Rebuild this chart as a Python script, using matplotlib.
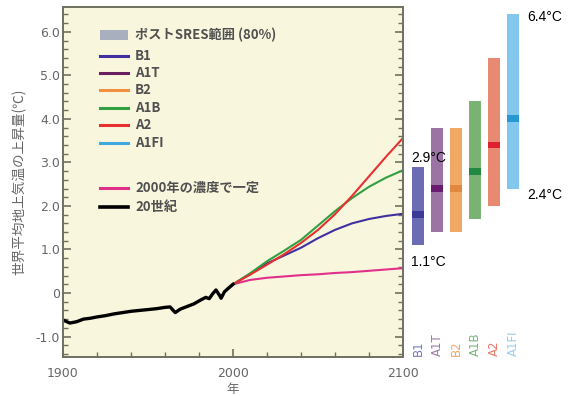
import matplotlib
matplotlib.use("Agg")
import matplotlib.pyplot as plt
from matplotlib.ticker import MultipleLocator

plt.rcParams["font.family"] = ["Noto Sans CJK JP", "DejaVu Sans"]

# -------------------------
# Data
# -------------------------
hist_years = [1900, 1904, 1908, 1912, 1916, 1920, 1925, 1930, 1935, 1940,
              1945, 1950, 1955, 1960, 1963, 1966, 1969, 1973, 1977, 1981,
              1984, 1986, 1988, 1990, 1992, 1993, 1995, 1997, 2000]
hist_temp = [-0.62, -0.69, -0.66, -0.60, -0.58, -0.55, -0.52, -0.48, -0.45, -0.42,
             -0.40, -0.38, -0.36, -0.33, -0.32, -0.45, -0.37, -0.31, -0.25, -0.16,
             -0.10, -0.13, -0.02, 0.07, -0.05, -0.12, 0.03, 0.10, 0.20]

proj_years = [2000, 2010, 2020, 2030, 2040, 2050, 2060, 2070, 2080, 2090, 2100]
proj_a2 = [0.20, 0.42, 0.65, 0.89, 1.15, 1.45, 1.81, 2.23, 2.68, 3.13, 3.56]
proj_a1b = [0.20, 0.45, 0.73, 0.97, 1.22, 1.55, 1.88, 2.18, 2.44, 2.65, 2.82]
proj_b1 = [0.20, 0.44, 0.68, 0.86, 1.04, 1.26, 1.45, 1.60, 1.70, 1.77, 1.82]
proj_const = [0.20, 0.30, 0.35, 0.38, 0.41, 0.43, 0.46, 0.48, 0.51, 0.54, 0.57]

scenarios = ["B1", "A1T", "B2", "A1B", "A2", "A1FI"]
range_low = [1.1, 1.4, 1.4, 1.7, 2.0, 2.4]
range_high = [2.9, 3.8, 3.8, 4.4, 5.4, 6.4]
best_est = [1.8, 2.4, 2.4, 2.8, 3.4, 4.0]

line_colors = ["#4030a0", "#6a2060", "#f09040", "#30a040", "#e83030", "#40a8e0"]
bar_colors = ["#6c6cb4", "#9c74a4", "#f0a862", "#7ab274", "#e88a72", "#82c8ec"]
mark_colors = ["#3c3c98", "#6a1a70", "#e08840", "#208840", "#e02030", "#2898d0"]
label_colors = ["#7878bc", "#9c78a4", "#f0a868", "#78b478", "#f07868", "#98ccee"]

const_color = "#e0308a"

# -------------------------
# Figure
# -------------------------
fig = plt.figure(figsize=(5.7, 3.96), dpi=100)
ax = fig.add_axes([63 / 570, 1 - 357 / 396, 340 / 570, 350 / 396])
ax.set_facecolor("#f9f6de")
ax.set_xlim(1900, 2100)
ax.set_ylim(-1.47, 6.57)

ax.plot(proj_years, proj_const, color=const_color, lw=1.5)
ax.plot(proj_years, proj_b1, color=line_colors[0], lw=1.5)
ax.plot(proj_years, proj_a1b, color=line_colors[3], lw=1.5)
ax.plot(proj_years, proj_a2, color=line_colors[4], lw=1.5)
ax.plot(hist_years, hist_temp, color="black", lw=2.4)

tick_col = "#666666"
ax.set_xticks([1900, 2000, 2100])
ax.xaxis.set_minor_locator(MultipleLocator(20))
ax.set_yticks([-1.0, 0, 1.0, 2.0, 3.0, 4.0, 5.0, 6.0])
ax.set_yticklabels(["-1.0", "0", "1.0", "2.0", "3.0", "4.0", "5.0", "6.0"])
ax.yaxis.set_minor_locator(MultipleLocator(0.2))
ax.tick_params(which="both", direction="in", colors="#707060", labelcolor=tick_col,
               labelsize=9, right=True)
ax.tick_params(which="major", length=6, width=1.2)
ax.tick_params(which="minor", length=3.5, width=1.0)
ax.tick_params(axis="x", pad=7)
ax.tick_params(axis="y", pad=2)
for lab in ax.get_xticklabels() + ax.get_yticklabels():
    lab.set_family("DejaVu Sans")
for sp in ax.spines.values():
    sp.set_color("#707060")
    sp.set_linewidth(1.4)

ax.set_xlabel("年", color=tick_col, fontsize=9, labelpad=2)
ax.set_ylabel("世界平均地上気温の上昇量(℃)", color=tick_col, fontsize=9.8, labelpad=7)

# -------------------------
# Legend (drawn by hand)
# -------------------------
def row_y(py):
    return (357 - py) / 350

x0, x1, xt = 0.109, 0.191, 0.212
txt_kw = dict(transform=ax.transAxes, va="center", ha="left", fontsize=9.5,
              color="#505050", fontweight="bold")

ax.fill_between([x0, x1], row_y(30), row_y(40), color="#a8b0c0",
                transform=ax.transAxes, lw=0)
ax.text(xt, row_y(35), "ポストSRES範囲 (80%)", **txt_kw)

rows = [56, 73, 90, 108, 125, 143]
for name, col, py in zip(scenarios, line_colors, rows):
    ax.plot([x0, x1], [row_y(py), row_y(py)], color=col, lw=2.2,
            transform=ax.transAxes)
    ax.text(xt, row_y(py), name, **txt_kw)

ax.plot([x0, x1], [row_y(188), row_y(188)], color=const_color, lw=2.2,
        transform=ax.transAxes)
ax.text(xt, row_y(188), "2000年の濃度で一定", **txt_kw)
ax.plot([x0, x1], [row_y(207), row_y(207)], color="black", lw=2.6,
        transform=ax.transAxes)
ax.text(xt, row_y(207), "20世紀", **txt_kw)

# -------------------------
# Range bars for 2090-2099
# -------------------------
ax2 = fig.add_axes([405 / 570, 1 - 357 / 396, 165 / 570, 350 / 396])
ax2.set_xlim(-0.684, 8.0)
ax2.set_ylim(-1.47, 6.57)
ax2.axis("off")

xs = list(range(len(scenarios)))
ax2.bar(xs, [h - l for h, l in zip(range_high, range_low)], bottom=range_low,
        width=0.58, color=bar_colors, lw=0)
ax2.bar(xs, 0.16, bottom=[b - 0.08 for b in best_est], width=0.58,
        color=mark_colors, lw=0)

for x, name, col in zip(xs, scenarios, label_colors):
    ax2.text(x, -1.45, name, rotation=90, ha="center", va="bottom",
             fontsize=8.5, color=col, family="DejaVu Sans")

num_kw = dict(fontsize=10, color="black", family="Liberation Sans")
ax2.text(-0.38, range_high[0] + 0.05, f"{range_high[0]:.1f}°C", ha="left",
         va="bottom", **num_kw)
ax2.text(-0.38, range_low[0] - 0.22, f"{range_low[0]:.1f}°C", ha="left",
         va="top", **num_kw)
ax2.text(5.75, range_high[5] - 0.07, f"{range_high[5]:.1f}°C", ha="left",
         va="center", **num_kw)
ax2.text(5.75, range_low[5] - 0.15, f"{range_low[5]:.1f}°C", ha="left",
         va="center", **num_kw)

fig.savefig("out.png", dpi=100)
plt.close(fig)
